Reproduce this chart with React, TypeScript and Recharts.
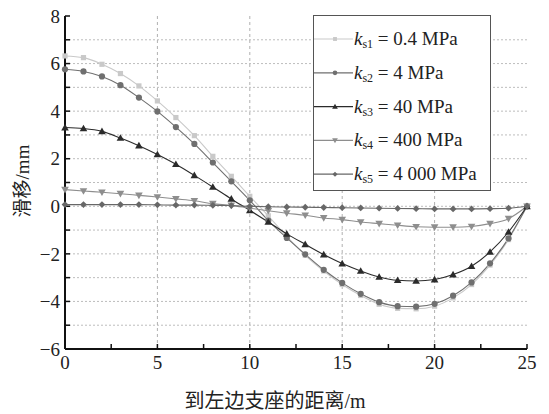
import React from 'react';
import { LineChart, Line, XAxis, YAxis, ReferenceLine } from 'recharts';

// distance from the left support, m
const distance = [0, 1, 2, 3, 4, 5, 6, 7, 8, 9, 10, 11, 12, 13, 14, 15, 16, 17, 18, 19, 20, 21, 22, 23, 24, 25];

// slip, mm
const ks1 = [6.32, 6.25, 5.97, 5.58, 5.06, 4.43, 3.73, 2.97, 2.1, 1.26, 0.42, -0.4, -1.27, -2.06, -2.72, -3.29, -3.75, -4.12, -4.29, -4.31, -4.2, -3.85, -3.29, -2.47, -1.4, 0];
const ks2 = [5.76, 5.67, 5.46, 5.09, 4.57, 3.99, 3.33, 2.62, 1.84, 1.05, 0.25, -0.6, -1.33, -2.02, -2.67, -3.22, -3.68, -4.03, -4.2, -4.22, -4.1, -3.76, -3.2, -2.4, -1.35, 0];
const ks3 = [3.31, 3.27, 3.15, 2.87, 2.55, 2.18, 1.77, 1.3, 0.81, 0.31, -0.17, -0.66, -1.16, -1.6, -2.03, -2.41, -2.72, -2.97, -3.11, -3.14, -3.08, -2.87, -2.52, -1.92, -1.08, 0];
const ks4 = [0.7, 0.64, 0.59, 0.53, 0.46, 0.39, 0.31, 0.23, 0.11, 0.04, -0.08, -0.19, -0.29, -0.38, -0.49, -0.56, -0.66, -0.73, -0.8, -0.86, -0.88, -0.88, -0.85, -0.73, -0.52, 0];
const ks5 = [0.07, 0.07, 0.07, 0.07, 0.07, 0.06, 0.05, 0.05, 0.04, 0.03, 0.0, -0.02, -0.03, -0.04, -0.05, -0.06, -0.07, -0.08, -0.09, -0.1, -0.11, -0.11, -0.11, -0.1, -0.08, 0];

const xTicks = [0, 2.5, 5, 7.5, 10, 12.5, 15, 17.5, 20, 22.5, 25];
const yTicks = [-6, -5, -4, -3, -2, -1, 0, 1, 2, 3, 4, 5, 6, 7, 8];
const xGrid = [5, 10, 15, 20];
const yGrid = [-5, -4, -3, -2, -1, 0, 1, 2, 3, 4, 5, 6, 7];

const series = [
  { key: 'ks1', sub: 's1', value: '0.4 MPa', color: '#c9c9c9', shape: 'square' },
  { key: 'ks2', sub: 's2', value: '4 MPa', color: '#6f6f6f', shape: 'circle' },
  { key: 'ks3', sub: 's3', value: '40 MPa', color: '#2b2b2b', shape: 'triangle' },
  { key: 'ks4', sub: 's4', value: '400 MPa', color: '#8e8e8e', shape: 'down' },
  { key: 'ks5', sub: 's5', value: '4 000 MPa', color: '#676767', shape: 'diamond' },
];

const data = distance.map((d, i) => ({
  d,
  ks1: ks1[i],
  ks2: ks2[i],
  ks3: ks3[i],
  ks4: ks4[i],
  ks5: ks5[i],
}));

const serif = "'Liberation Serif', 'DejaVu Serif', serif";
const cjk = "'Liberation Serif', 'Noto Sans CJK SC', serif";

function Marker({ cx, cy, shape, color, s = 1 }: any) {
  if (cx == null || cy == null) return null;
  if (shape === 'square') {
    const h = 2.6 * s;
    return <rect x={cx - h} y={cy - h} width={2 * h} height={2 * h} fill={color} />;
  }
  if (shape === 'circle') return <circle cx={cx} cy={cy} r={3.1 * s} fill={color} />;
  if (shape === 'triangle') {
    const r = 3.8 * s;
    return <polygon points={`${cx},${cy - r} ${cx - r},${cy + r * 0.75} ${cx + r},${cy + r * 0.75}`} fill={color} />;
  }
  if (shape === 'down') {
    const r = 3.8 * s;
    return <polygon points={`${cx},${cy + r} ${cx - r},${cy - r * 0.75} ${cx + r},${cy - r * 0.75}`} fill={color} />;
  }
  const r = 3.4 * s;
  return <polygon points={`${cx},${cy - r} ${cx + r},${cy} ${cx},${cy + r} ${cx - r},${cy}`} fill={color} />;
}

function LegendBox() {
  return (
    <svg width={178} height={176} style={{ display: 'block' }}>
      <rect x={0.5} y={0.5} width={177} height={175} fill="#fff" stroke="#555" strokeWidth={1} />
      {series.map((s, i) => {
        const y = 24 + i * 33.8;
        return (
          <g key={s.key}>
            <line x1={1} x2={40} y1={y} y2={y} stroke={s.color} strokeWidth={1.2} />
            <Marker cx={22} cy={y} shape={s.shape} color={s.color} s={0.75} />
            <text x={41} y={y + 6} fontFamily={serif} fontSize={19} fill="#222">
              <tspan fontStyle="italic">k</tspan>
              <tspan fontSize={12} dy={3}>{s.sub}</tspan>
              <tspan dy={-3}>{` = ${s.value}`}</tspan>
            </text>
          </g>
        );
      })}
    </svg>
  );
}

const fmtX = (v: number) => (v % 5 === 0 ? String(v) : '');
const fmtY = (v: number) => (v % 2 === 0 ? String(v).replace('-', '\u2212') : '');

export default function App() {
  return (
    <div style={{ position: 'absolute', left: 0, top: 0, width: 549, height: 414, background: '#fff' }}>
      <LineChart width={549} height={414} data={data} margin={{ top: 16, right: 22, bottom: 0, left: 0 }}>
        {yGrid.map((v) => (
          <ReferenceLine key={'h' + v} y={v} stroke="#bdbdbd" strokeDasharray="2 2" strokeWidth={1} />
        ))}
        {xGrid.map((v) => (
          <ReferenceLine key={'v' + v} x={v} stroke="#b0b0b0" strokeDasharray="3 3" strokeWidth={1} />
        ))}
        <XAxis
          dataKey="d"
          type="number"
          domain={[0, 25]}
          ticks={xTicks}
          tickFormatter={fmtX}
          interval={0}
          height={65}
          tickSize={-5}
          tickMargin={12}
          axisLine={{ stroke: '#111', strokeWidth: 2 }}
          tickLine={{ stroke: '#111', strokeWidth: 1.5 }}
          tick={{ fill: '#222', fontSize: 19, fontFamily: serif }}
          label={{
            content: () => (
              <text x={275} y={408} textAnchor="middle" fontSize={20} fontFamily={cjk} fill="#222">
                到左边支座的距离/m
              </text>
            ),
          }}
        />
        <YAxis
          type="number"
          domain={[-6, 8]}
          ticks={yTicks}
          tickFormatter={fmtY}
          interval={0}
          width={65}
          tickSize={-5}
          tickMargin={10}
          axisLine={{ stroke: '#111', strokeWidth: 2 }}
          tickLine={{ stroke: '#111', strokeWidth: 1.5 }}
          tick={{ fill: '#222', fontSize: 19, fontFamily: serif }}
          label={{
            content: () => (
              <text
                x={22}
                y={181}
                textAnchor="middle"
                dominantBaseline="central"
                transform="rotate(-90 22 181)"
                fontSize={19}
                fontFamily={cjk}
                fill="#222"
              >
                滑移/mm
              </text>
            ),
          }}
        />
        {series.map((s) => (
          <Line
            key={s.key}
            dataKey={s.key}
            type="monotone"
            stroke={s.color}
            strokeWidth={1.1}
            isAnimationActive={false}
            dot={(p: any) => <Marker key={s.key + p.index} cx={p.cx} cy={p.cy} shape={s.shape} color={s.color} />}
            activeDot={false}
          />
        ))}
      </LineChart>
      <div style={{ position: 'absolute', left: 313, top: 15 }}>
        <LegendBox />
      </div>
    </div>
  );
}
